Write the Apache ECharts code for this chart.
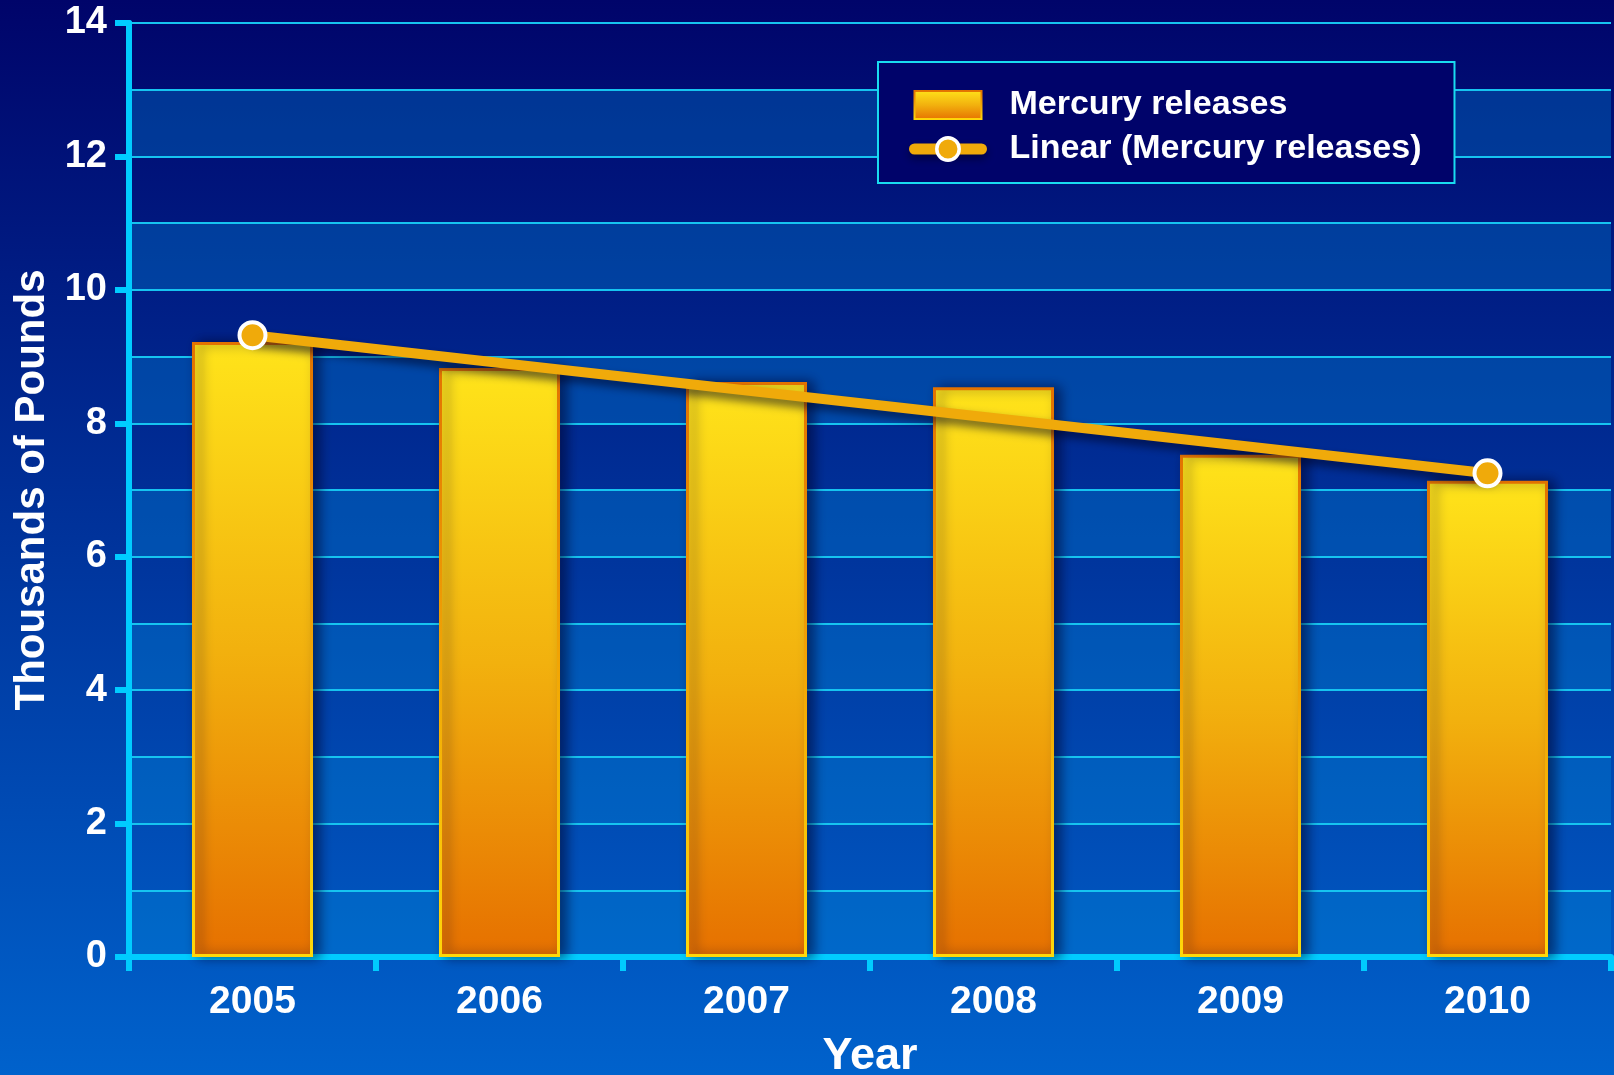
<!DOCTYPE html>
<html>
<head>
<meta charset="utf-8">
<script src="https://cdn.jsdelivr.net/npm/echarts@6/dist/echarts.min.js"></script>
<style>
html,body{margin:0;padding:0;background:#00046a;}
#chart{width:1614px;height:1075px;}
</style>
</head>
<body>
<div id="chart"></div>
<script>
const years = ['2005', '2006', '2007', '2008', '2009', '2010'];
const mercuryReleases = [9.22, 8.83, 8.62, 8.54, 7.53, 7.14];
const linearTrend = [9.32, null, null, null, null, 7.25];
const seriesNames = ['Mercury releases', 'Linear (Mercury releases)'];

const FONT = '"Liberation Sans", Arial, Helvetica, sans-serif';
const CYAN = '#00ccff';
const GRID_CYAN = '#16c4f0';
const TREND = '#f0aa0a';

const chart = echarts.init(document.getElementById('chart'));
const option = {
  backgroundColor: new echarts.graphic.LinearGradient(0, 0, 0, 1, [
    {offset: 0, color: '#00046a'},
    {offset: 1, color: '#0062cc'}
  ]),
  animation: false,
  grid: {left: 129, right: 3, top: 23, bottom: 118, containLabel: false, outerBoundsMode: 'none'},
  legend: {
    orient: 'vertical',
    left: 878,
    top: 62,
    padding: [26, 33, 17, 31],
    itemGap: 10,
    itemWidth: 67,
    itemHeight: 28,
    backgroundColor: '#00036a',
    borderColor: '#19dcf0',
    borderWidth: 2,
    textStyle: {color: '#ffffff', fontFamily: FONT, fontWeight: 'bold', fontSize: 34, padding: [0, 0, 0, 23]},
    data: [
      {name: seriesNames[0], icon: 'rect'},
      {
        name: seriesNames[1],
        lineStyle: {color: TREND, width: 11, cap: 'round', shadowColor: 'rgba(0,0,30,0.6)', shadowBlur: 8, shadowOffsetY: 4},
        itemStyle: {color: TREND, borderColor: '#ffffff', borderWidth: 3.5}
      }
    ]
  },
  xAxis: {
    type: 'category',
    data: years,
    name: 'Year',
    nameLocation: 'middle',
    nameGap: 77,
    nameTextStyle: {color: '#ffffff', fontFamily: FONT, fontWeight: 'bold', fontSize: 45},
    axisLine: {show: true, lineStyle: {color: CYAN, width: 6}},
    axisTick: {show: true, alignWithLabel: false, length: 14, lineStyle: {color: CYAN, width: 6}},
    axisLabel: {color: '#ffffff', fontFamily: FONT, fontWeight: 'bold', fontSize: 39, margin: 26},
    splitLine: {show: false}
  },
  yAxis: [
    {
      type: 'value',
      min: 0, max: 14, interval: 1,
      position: 'left',
      axisLine: {show: true, lineStyle: {color: CYAN, width: 6}},
      axisTick: {show: false},
      axisLabel: {show: false},
      splitLine: {show: true, lineStyle: {color: GRID_CYAN, width: 2}},
      splitArea: {show: true, areaStyle: {color: ['rgba(0,140,220,0.33)', 'rgba(0,0,0,0)']}}
    },
    {
      type: 'value',
      min: 0, max: 14, interval: 2,
      position: 'left',
      name: 'Thousands of Pounds',
      nameLocation: 'middle',
      nameGap: 76,
      nameRotate: 90,
      nameTextStyle: {color: '#ffffff', fontFamily: FONT, fontWeight: 'bold', fontSize: 42},
      axisLine: {show: true, lineStyle: {color: CYAN, width: 6}},
      axisTick: {show: true, length: 14, lineStyle: {color: CYAN, width: 6}},
      axisLabel: {color: '#ffffff', fontFamily: FONT, fontWeight: 'bold', fontSize: 38, margin: 22, padding: [8, 0, 0, 0]},
      splitLine: {show: false},
      splitArea: {show: false}
    }
  ],
  series: [
    {
      name: seriesNames[0],
      type: 'bar',
      yAxisIndex: 0,
      data: mercuryReleases,
      barWidth: '49%',
      itemStyle: {
        color: new echarts.graphic.LinearGradient(0, 0, 0, 1, [
          {offset: 0, color: '#ffe41a'},
          {offset: 0.5, color: '#f2b10e'},
          {offset: 1, color: '#e67000'}
        ]),
        borderColor: new echarts.graphic.LinearGradient(0, 0, 0, 1, [
          {offset: 0, color: '#e27200'},
          {offset: 1, color: '#ffd80a'}
        ]),
        borderWidth: 3,
        shadowColor: 'rgba(0,0,40,0.55)',
        shadowBlur: 12,
        shadowOffsetX: 6,
        shadowOffsetY: 0
      },
      emphasis: {disabled: true}
    },
    {
      name: seriesNames[1],
      type: 'line',
      yAxisIndex: 0,
      data: linearTrend,
      connectNulls: true,
      symbol: 'circle',
      symbolSize: 26,
      z: 5,
      lineStyle: {
        color: TREND, width: 10, cap: 'round',
        shadowColor: 'rgba(0,0,30,0.6)', shadowBlur: 10, shadowOffsetX: 3, shadowOffsetY: 6
      },
      itemStyle: {color: TREND, borderColor: '#ffffff', borderWidth: 4},
      emphasis: {disabled: true}
    }
  ]
};
chart.setOption(option);
</script>
</body>
</html>
